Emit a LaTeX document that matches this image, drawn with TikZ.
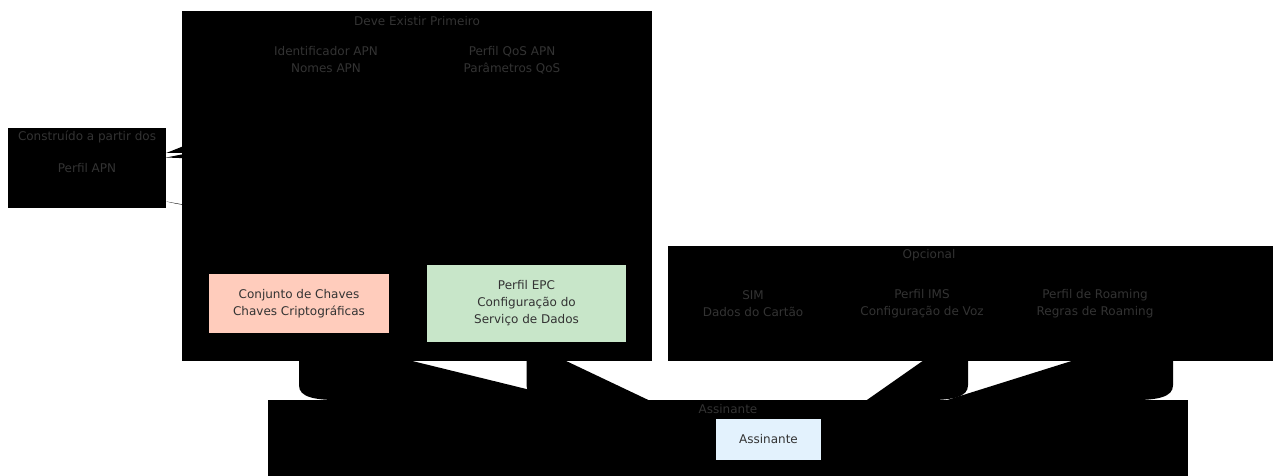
\documentclass[tikz,border=0pt]{standalone}
\usepackage{fontspec}
\setmainfont{DejaVu Sans}
\usetikzlibrary{calc}

\definecolor{txtgray}{HTML}{333333}
\definecolor{chavesfill}{HTML}{FFCCBC}
\definecolor{epcfill}{HTML}{C8E6C9}
\definecolor{assinfill}{HTML}{E3F2FD}

\begin{document}
\begin{tikzpicture}[x=1pt, y=-1pt,
    cluster/.style={fill=black, draw=none},
    ctitle/.style={text=txtgray, font=\fontsize{12}{17}\selectfont, inner sep=0pt},
    blk/.style={fill=black, draw=none, text=txtgray, align=center, inner sep=0pt,
        font=\fontsize{12}{17}\selectfont, minimum height=59pt},
    box/.style={draw=none, text=txtgray, align=center, inner sep=0pt,
        font=\fontsize{12}{17}\selectfont},
    edgefill/.style={fill=black, draw=none}]
        \useasboundingbox[fill=white] (0,0) rectangle (1273,476);
        % ==== CLUSTERS ====
        \fill[cluster] (182,11) rectangle (652,361);
        \fill[cluster] (8,128) rectangle (166,207);
        \fill[cluster] (668,246) rectangle (1273,361);
        \fill[cluster] (268,400) rectangle (1188,476);

        % ==== NODES ====
        \node[blk, minimum width=158pt, minimum height=80pt] (apn) at (87,168) {Perfil APN};
        \node[blk, minimum width=150pt] (idn) at (326,60) {Identificador APN\\Nomes APN};
        \node[blk, minimum width=150pt] (qos) at (512,60) {Perfil QoS APN\\Parâmetros QoS};
        \node[blk, minimum width=140pt, minimum height=50pt] (sim) at (753,304) {SIM\\Dados do Cartão};
        \node[blk, minimum width=140pt, minimum height=50pt] (ims) at (922,304) {Perfil IMS\\Configuração de Voz};
        \node[blk, minimum width=140pt, minimum height=50pt] (roam) at (1095,304) {Perfil de Roaming\\Regras de Roaming};
        \node[box, fill=chavesfill, minimum width=180pt, minimum height=59pt] (chaves) at (299,303.5)
            {Conjunto de Chaves\\Chaves Criptográficas};
        \node[box, fill=epcfill, minimum width=199pt, minimum height=77pt] (epc) at (526.5,303.5)
            {Perfil EPC\\Configuração do\\Serviço de Dados};
        \node[box, fill=assinfill, minimum width=105pt, minimum height=41pt] (assin) at (768.5,439.5)
            {Assinante};

        % ==== CLUSTER TITLES ====
        \node[ctitle] at (417,21) {Deve Existir Primeiro};
        \node[ctitle] at (87,137) {Construído a partir dos};
        \node[ctitle] at (929,255) {Opcional};
        \node[ctitle] at (728,409) {Assinante};

        % ==== EDGES ====
        \fill[edgefill] (idn.south) .. controls ($(idn.south)+(0,60)$) and ($(apn.east)+(50,-15)$)
            .. ($(apn.east)+(0,-15)$) -- cycle;
        \fill[edgefill] (qos.south) .. controls ($(qos.south)+(0,75)$) and ($(apn.east)+(80,-7)$)
            .. ($(apn.east)+(0,-10.5)$) -- cycle;
        \fill[edgefill] ($(apn.east)+(0,33.5)$) .. controls ($(apn.east)+(64,50)$) and ($(epc.north)+(0,-40)$)
            .. (epc.north) -- cycle;
        \fill[edgefill] (chaves.south) -- ++(0,52) .. controls ++(0,12) and ++(-29,0) .. ++(44,15)
            -- ($(assin.west)+(0,-4)$) -- cycle;
        \fill[edgefill] (epc.south) -- ++(0,43) .. controls ++(0,12) and ++(-29,0) .. ++(44,15)
            -- ($(assin.west)+(0,-7.5)$) -- cycle;
        \fill[edgefill] ($(ims.south)+(46,0)$) -- ++(0,56) .. controls ++(0,12) and ++(29,0) .. ++(-44,15)
            -- ($(assin.east)+(0,-7.5)$) -- cycle;
        \fill[edgefill] ($(roam.south)+(78,0)$) -- ++(0,56) .. controls ++(0,12) and ++(29,0) .. ++(-44,15)
            -- (assin.east) -- cycle;
\end{tikzpicture}
\end{document}
